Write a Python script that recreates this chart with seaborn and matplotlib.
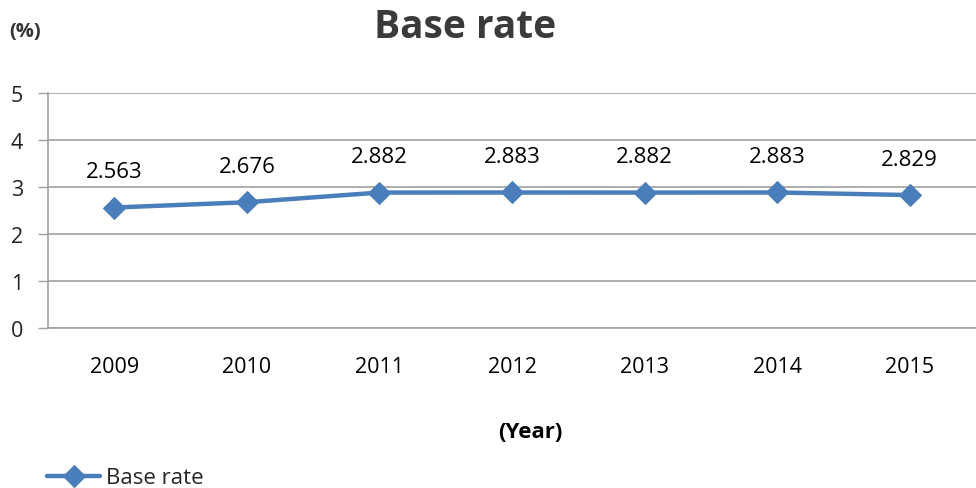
import matplotlib
matplotlib.use("Agg")
import matplotlib.pyplot as plt
import seaborn as sns
import pandas as pd

years = ["2009", "2010", "2011", "2012", "2013", "2014", "2015"]
base_rate = [2.563, 2.676, 2.882, 2.883, 2.882, 2.883, 2.829]
y_ticks = [0, 1, 2, 3, 4, 5]

sns.set_theme(style="white")
plt.rcParams['font.family'] = ['Open Sans', 'DejaVu Sans']

df = pd.DataFrame({"Year": years, "Base rate": base_rate})
df["pos"] = range(len(years))

fig = plt.figure(figsize=(9.76, 4.89), dpi=100)
ax = fig.add_axes([48/976, 1 - 329/489, 1 - 48/976, (329 - 94)/489])

color = "#4A7EBB"
sns.lineplot(data=df, x="pos", y="Base rate", ax=ax, color=color, linewidth=3.2,
             marker="D", markersize=11, markeredgecolor=color, label="Base rate")

for x, v in zip(df["pos"], base_rate):
    ax.annotate(f"{v:.3f}", (x, v), xytext=(0, 36), textcoords="offset pixels",
                ha="center", va="center", fontsize=16, color="black")

ax.set_xlim(-0.5, len(years) - 0.5)
ax.set_ylim(0, 5)
ax.set_yticks(y_ticks)
ax.set_yticklabels([str(t) for t in y_ticks], fontsize=15.5, color="#222222")
ax.set_xticks(df["pos"])
ax.set_xticklabels(years, fontsize=15.5, color="black")
ax.tick_params(axis="x", length=0, pad=20)
ax.tick_params(axis="y", length=7, width=1, color="#A0A0A0", pad=11, left=True)
ax.grid(axis="y", color="#A0A0A0", linewidth=1.2)
ax.set_axisbelow(True)
for s in ["top", "right"]:
    ax.spines[s].set_visible(False)
ax.spines["left"].set_color("#A0A0A0")
ax.spines["bottom"].set_color("#A0A0A0")
ax.spines["left"].set_linewidth(1.2)
ax.spines["bottom"].set_linewidth(1.2)
ax.set_xlabel("")
ax.set_ylabel("")

fig.text(465/976, 1 - 27/489, "Base rate", ha="center", va="center",
         fontsize=28, fontweight="bold", color="#3a3a3a")
fig.text(25/976, 1 - 32/489, "(%)", ha="center", va="center",
         fontsize=14.5, fontweight="bold", color="#333333")
fig.text(530/976, 1 - 433/489, "(Year)", ha="center", va="center",
         fontsize=16, fontweight="bold", color="black")

leg = ax.legend(loc="center left", frameon=False, fontsize=16,
                handlelength=2.4, handletextpad=0.25, borderpad=0, borderaxespad=0)
leg.set_bbox_to_anchor((47/976, 1 - 479/489), transform=fig.transFigure)

fig.savefig("out.png", dpi=100)
